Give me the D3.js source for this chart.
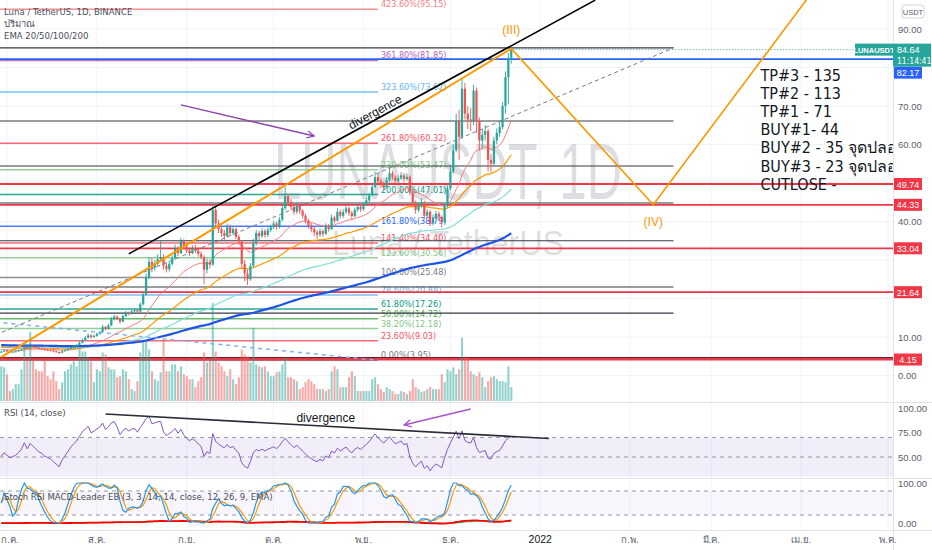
<!DOCTYPE html>
<html><head><meta charset="utf-8">
<script src="https://cdn.jsdelivr.net/npm/d3@7"></script>
<style>
body{margin:0;background:#fff;overflow:hidden;}
svg{display:block;font-family:"Liberation Sans",Arial,"Noto Sans",sans-serif;}
</style></head><body>
<svg id="c" width="932" height="550"></svg>
<script>
// ---------------- DATA ----------------
const firstDate = "2021-06-29";
const firstOpen = 6.0;
const closes = [6.2,6.5,6.3,6.1,6.2,6.3,6.5,6.8,7.4,7.0,
7.6,7.4,7.2,7.0,6.9,6.7,6.6,6.5,6.3,6.1,
5.9,6.3,6.6,6.9,7.3,7.6,7.9,8.5,9.2,9.8,
10.4,10.0,10.3,10.8,11.3,12.6,12.1,13.0,14.6,15.3,
14.8,14.0,15.4,16.3,16.0,16.7,17.0,16.6,18.5,21.0,
25.5,29.5,28.0,29.0,30.2,30.8,28.5,27.6,29.0,30.5,
33.0,31.8,35.0,33.5,32.5,31.8,33.0,32.4,31.6,30.8,
27.5,29.5,28.8,43.0,39.5,38.0,37.0,36.2,38.5,37.0,
38.0,36.0,34.8,29.0,26.5,25.0,28.5,34.5,37.0,36.2,
37.5,36.5,37.8,38.5,39.5,38.6,40.5,43.5,46.5,45.0,
43.8,42.5,44.0,42.8,41.5,40.2,39.0,38.0,37.2,36.6,
37.5,36.8,38.8,38.0,41.0,40.2,42.5,41.5,42.5,43.4,
42.2,41.4,43.0,43.8,43.2,44.3,45.5,46.8,49.0,51.5,
50.5,49.7,49.0,50.8,52.5,51.5,50.6,51.2,52.0,51.0,
51.6,47.5,44.8,43.0,44.2,45.0,41.5,42.5,39.5,41.0,
42.0,41.2,40.0,44.0,48.5,53.0,58.5,66.0,62.0,74.5,
68.0,66.5,66.0,74.0,66.0,61.0,62.5,63.5,56.0,55.0,
61.0,63.0,64.5,70.0,77.5,82.5,84.64];
const highs = [6.5,6.7,6.7,6.4,6.4,6.5,6.7,7.0,7.9,7.6,
8.3,7.8,7.6,7.4,7.2,7.1,6.9,6.8,6.7,6.5,
6.2,6.5,6.8,7.1,7.5,7.9,8.2,8.9,9.6,10.2,
10.9,10.7,10.6,11.1,11.6,13.2,12.9,13.4,15.2,15.8,
15.6,15.0,15.8,16.8,16.6,17.1,17.5,17.3,19.0,21.6,
26.5,30.8,30.5,30.0,31.5,35.0,31.5,29.2,29.8,31.2,
34.0,33.6,35.8,35.4,34.2,33.0,33.8,34.0,33.0,32.2,
31.2,30.4,30.2,44.5,44.0,40.5,38.8,37.8,39.5,39.2,
38.8,38.4,36.6,35.2,30.0,27.5,29.2,35.5,37.8,37.6,
38.2,38.0,38.4,39.2,40.2,40.0,41.2,44.5,49.0,47.2,
45.8,44.5,44.8,44.4,43.2,42.0,40.8,39.6,38.6,37.8,
38.2,38.0,39.5,39.4,41.8,41.5,43.4,43.0,43.2,44.0,
43.8,42.8,43.6,44.5,44.4,45.0,46.2,47.5,49.8,53.0,
52.4,51.2,50.4,51.6,54.0,53.2,52.0,52.0,52.8,52.6,
52.5,52.0,48.0,45.4,45.0,46.0,45.4,43.2,43.0,41.8,
42.8,42.6,41.6,44.8,49.4,54.2,60.0,68.0,69.0,77.0,
76.0,70.0,69.5,75.5,74.8,67.0,64.0,65.0,64.0,57.5,
62.0,64.2,66.0,71.0,79.0,83.8,85.3];
const lows = [5.8,6.1,6.1,5.9,5.9,6.0,6.2,6.4,6.7,6.8,
6.9,7.2,7.0,6.8,6.7,6.4,6.4,6.3,6.1,5.9,
5.6,5.8,6.2,6.5,6.8,7.1,7.4,7.8,8.3,9.0,
9.6,9.6,9.8,10.1,10.6,11.1,11.7,11.9,12.8,14.3,
14.4,13.5,13.8,15.2,15.6,15.8,16.4,16.2,16.4,18.2,
20.8,25.0,26.8,27.2,28.5,29.5,27.5,26.8,27.0,28.6,
30.0,31.0,31.5,32.8,31.8,31.0,31.5,31.8,30.8,30.2,
23.7,26.5,27.8,28.5,38.5,37.0,36.0,35.2,35.8,36.4,
36.5,35.4,34.0,28.0,24.5,23.5,24.6,28.0,33.8,35.2,
35.8,35.8,36.0,37.2,38.0,37.8,38.2,40.0,43.0,44.0,
43.0,41.8,42.0,42.0,40.8,39.5,38.2,37.2,36.2,35.5,
36.0,36.0,36.5,37.4,37.8,39.5,40.0,40.8,41.0,42.0,
41.5,40.6,41.0,42.6,42.5,42.8,44.0,45.0,46.5,48.6,
49.6,48.8,48.2,48.6,50.4,50.8,49.8,50.0,50.8,50.2,
50.6,46.8,44.0,42.0,42.4,43.6,40.8,41.0,38.8,39.0,
40.4,40.2,38.4,39.6,43.6,48.0,52.5,58.0,56.0,61.5,
66.5,64.0,63.5,65.0,63.0,58.5,59.0,61.0,53.0,52.7,
54.5,60.0,62.0,64.0,68.0,70.5,81.0];
const volumes = [35,34,27,10,12,17,17,32,59,42,
70,42,32,30,30,42,25,22,30,20,
12,19,30,32,37,40,35,57,50,50,
44,40,19,32,30,49,47,34,32,32,
24,25,32,30,22,12,10,20,49,60,
62,52,30,22,20,29,62,30,30,37,
37,30,35,27,25,22,22,14,20,24,
49,39,42,99,50,39,35,30,25,32,
22,17,24,52,47,45,39,74,37,35,
34,35,30,25,25,29,30,37,44,24,
24,22,20,12,14,19,22,20,17,12,
12,12,10,12,30,35,32,14,14,14,
24,30,25,10,10,10,10,10,22,24,
17,12,9,14,12,10,7,7,10,9,
7,10,22,14,12,9,10,12,14,12,
12,12,27,19,32,30,34,27,32,64,
45,44,30,27,25,29,24,14,20,24,
25,22,20,20,19,35,14];
const emaPeriods = [20, 50, 100, 200];
const emaSeeds = [6.8, 7.4, 7.6, 7.9];
const macdSeeds = [6.4, 6.6];
const rsiSeed = [0.15, 0.16];

const fibLevels = [4.236,3.618,3.236,2.618,2.3,2.0,1.618,1.414,1.236,1.0,0.786,0.618,0.5,0.382,0.236,0];
const fibPrices = [95.15,81.85,73.62,60.32,53.47,47.01,38.79,34.40,30.56,25.48,20.88,17.26,14.72,12.18,9.03,3.95];
const fibSpan = ["2021-05-01","2021-11-06"];
const supportLevels = [49.74,44.33,33.04,21.64,4.15];
const blueLevel = 82.17;
const darkLevels = [85.1,66.1,54.4,44.8,35.0,23.0,16.2];
const darkEnd = "2022-02-16";
const lastPrice = 84.64;
const countdown = "11:14:41";

const blackTrend = [["2021-08-12",31.6],["2022-01-20",97.5]];
const orangeChannel = [["2021-06-29",4.8],["2021-12-22",84.9]];
const orangeWave = [["2021-12-22",84.9],["2022-02-09",44.33],["2022-05-10",135]];
const dashedTrend = [["2021-06-27",10.5],["2022-02-16",85.1]];
const blueDashed = [["2021-06-27",13.9],["2021-11-06",3.95]];
const purpleArrow = [["2021-08-30",70.3],["2021-10-15",62.2]];
const rsiTrend = [["2021-08-04",93.9],["2022-01-04",68.8]];
const rsiArrow = [["2021-12-08",99.0],["2021-11-15",82.7]];
const waveLabels = [["(III)","2021-12-22",88.6],["(IV)","2022-02-09",38.8]];
const divergenceMain = ["divergence","2021-11-05",68.4];
const divergenceRsi = ["divergence","2021-10-19",89.8];
const planAnchor = ["2022-03-18",76.6];
const planLines = ["TP#3 - 135","TP#2 - 113","TP#1 - 71","BUY#1- 44","BUY#2 - 35 จุดปลอดภัย","BUY#3 - 23 จุดปลอดภัย","CUTLOSE -"];

const priceTicks = [0,10,20,30,40,50,60,70,80,90];
const rsiTicks = [100,75,50];
const stochTicks = [100,0];
const monthTicks = ["2021-07-01","2021-08-01","2021-09-01","2021-10-01","2021-11-01","2021-12-01","2022-01-01","2022-02-01","2022-03-01","2022-04-01","2022-05-01"];
const monthLabels = ["ก.ค.","ส.ค.","ก.ย.","ต.ค.","พ.ย.","ธ.ค.","2022","ก.พ.","มี.ค.","เม.ย.","พ.ค."];

// ---------------- STYLE ----------------
const W = 932, H = 550, PW = 893;
const MAIN = [0, 402], RSIP = [402, 478], STP = [478, 530];
const UP = "#26a69a", DN = "#ef5350";
const emaColors = ["#f77c80", "#ff9800", "#80ded5", "#1e53e5"];
const emaWidths = [1, 1.2, 1.2, 2.2];
const fibColors = ["#f77c80","#b05ec0","#64b5f6","#f7525f","#81c784","#089981","#2962ff","#f7525f","#81c784","#787b86","#64b5f6","#089981","#4caf50","#81c784","#f7525f","#787b86"];
const narrow = '"Liberation Sans Narrow","Arial Narrow","DejaVu Sans Condensed","Liberation Sans",sans-serif';

const parse = d3.timeParse("%Y-%m-%d");
const svg = d3.select("#c");
const x = d3.scaleTime().domain([parse("2021-07-01"), parse("2022-05-01")]).range([7, 888]);
const y = d3.scaleLinear().domain([0, 90]).range([375.5, 29]);
const yVol = d3.scaleLinear().domain([0, 100]).range([401, 302]);
const yR = d3.scaleLinear().domain([50, 100]).range([457, 408]);
const yS = d3.scaleLinear().domain([0, 100]).range([523, 483]);

const defs = svg.append("defs");
function clip(id, y0, y1, w) { defs.append("clipPath").attr("id", id).append("rect").attr("x", 0).attr("y", y0).attr("width", w).attr("height", y1 - y0); }
clip("cm", MAIN[0], MAIN[1], PW); clip("cr", RSIP[0], RSIP[1], PW); clip("cs", STP[0], STP[1], PW);
function marker(id, color) {
  defs.append("marker").attr("id", id).attr("viewBox", "0 0 10 10").attr("refX", 9).attr("refY", 5)
    .attr("markerWidth", 9).attr("markerHeight", 9).attr("orient", "auto").attr("markerUnits", "userSpaceOnUse")
    .append("path").attr("d", "M1,1 L9,5 L1,9").attr("fill", "none").attr("stroke", color).attr("stroke-width", 1.4);
}
marker("ap", "#8e44ad"); marker("ar", "#a855c8");

// grid
const grid = svg.append("g");
monthTicks.forEach(m => grid.append("line").attr("x1", x(parse(m))).attr("x2", x(parse(m))).attr("y1", 0).attr("y2", STP[1]).attr("stroke", "#f0f3fa"));
priceTicks.forEach(p => grid.append("line").attr("x1", 0).attr("x2", PW).attr("y1", y(p)).attr("y2", y(p)).attr("stroke", "#f0f3fa"));

// ---------- data prep ----------
const start = parse(firstDate);
const bars = closes.map((c, i) => ({ date: d3.timeDay.offset(start, i), o: i ? closes[i - 1] : firstOpen, h: highs[i], l: lows[i], c, v: volumes[i] }));
function ema(vals, n, seed) { const a = 2 / (n + 1); let e = seed; return vals.map(v => (e = e + a * (v - e))); }
const emas = emaPeriods.map((n, k) => ema(closes, n, emaSeeds[k]));
let ag = rsiSeed[0], al = rsiSeed[1];
const rsi = bars.map(b => { const ch = b.c - b.o; ag = (ag * 13 + Math.max(ch, 0)) / 14; al = (al * 13 + Math.max(-ch, 0)) / 14; return 100 - 100 / (1 + ag / al); });
const st = rsi.map((r, i) => { const w = rsi.slice(Math.max(0, i - 13), i + 1); const lo = d3.min(w), hi = d3.max(w); return hi > lo ? (r - lo) / (hi - lo) * 100 : 50; });
const sma3 = a => a.map((v, i) => d3.mean(a.slice(Math.max(0, i - 2), i + 1)));
const K = sma3(st), D = sma3(K);
const e12 = ema(closes, 12, macdSeeds[0]), e26 = ema(closes, 26, macdSeeds[1]);
const macd = e12.map((v, i) => v - e26[i]);
const sig = ema(macd, 9, 0);

const P = a => [x(parse(a[0])), y(a[1])];

// ---------- MAIN PANEL ----------
const m = svg.append("g").attr("clip-path", "url(#cm)");
// watermark
m.append("text").attr("x", 448).attr("y", 199).attr("text-anchor", "middle").attr("font-size", 80)
  .attr("textLength", 348).attr("lengthAdjust", "spacingAndGlyphs").attr("fill", "rgba(120,123,134,0.25)").text("LUNAUSDT, 1D");
m.append("text").attr("x", 448).attr("y", 255).attr("text-anchor", "middle").attr("font-size", 35)
  .attr("textLength", 232).attr("lengthAdjust", "spacingAndGlyphs").attr("fill", "rgba(120,123,134,0.25)").text("Luna / TetherUS");

// fib lines
fibLevels.forEach((lv, i) => {
  const yy = y(fibPrices[i]);
  m.append("line").attr("x1", x(parse(fibSpan[0]))).attr("x2", x(parse(fibSpan[1]))).attr("y1", yy).attr("y2", yy)
    .attr("stroke", fibColors[i]).attr("stroke-width", 1.5).attr("opacity", 0.85);
  m.append("text").attr("x", x(parse(fibSpan[1])) + 3).attr("y", yy - 2).attr("font-size", 9).attr("font-family", narrow)
    .attr("fill", fibColors[i]).text(`${(lv * 100).toFixed(2)}%(${fibPrices[i].toFixed(2)})`);
});
// dark lines
darkLevels.forEach(p => m.append("line").attr("x1", 0).attr("x2", x(parse(darkEnd))).attr("y1", y(p)).attr("y2", y(p)).attr("stroke", "#363a45").attr("stroke-width", 1.1));
// support red
m.append("line").attr("x1", 0).attr("x2", PW).attr("y1", y(4.15) - 1.6).attr("y2", y(4.15) - 1.6).attr("stroke", "#7b1a24").attr("stroke-width", 1.6);
supportLevels.forEach(p => m.append("line").attr("x1", 0).attr("x2", PW).attr("y1", y(p)).attr("y2", y(p)).attr("stroke", "#f23645").attr("stroke-width", 1.8));
m.append("line").attr("x1", 0).attr("x2", PW).attr("y1", y(blueLevel)).attr("y2", y(blueLevel)).attr("stroke", "#2962ff").attr("stroke-width", 1.6);

// volume
m.selectAll(".vol").data(bars).join("rect").attr("x", d => x(d.date) - 1).attr("width", 2.1)
  .attr("y", d => yVol(d.v)).attr("height", d => yVol(0) - yVol(d.v))
  .attr("fill", d => d.c >= d.o ? "rgba(38,166,154,0.5)" : "rgba(239,83,80,0.5)");

// EMAs
emas.forEach((e, k) => {
  m.append("path").datum(e).attr("fill", "none").attr("stroke", emaColors[k]).attr("stroke-width", emaWidths[k])
    .attr("d", d3.line().x((v, i) => x(bars[i].date)).y(v => y(v)));
});

// candles
m.selectAll(".wick").data(bars).join("line").attr("x1", d => x(d.date)).attr("x2", d => x(d.date))
  .attr("y1", d => y(d.h)).attr("y2", d => y(d.l)).attr("stroke", d => d.c >= d.o ? UP : DN).attr("stroke-width", 0.9);
m.selectAll(".body").data(bars).join("rect").attr("x", d => x(d.date) - 1.1).attr("width", 2.2)
  .attr("y", d => y(Math.max(d.o, d.c))).attr("height", d => Math.max(1, Math.abs(y(d.o) - y(d.c))))
  .attr("fill", d => d.c >= d.o ? UP : DN);

// last price line
const lb = bars[bars.length - 1];
m.append("line").attr("x1", x(lb.date) + 2).attr("x2", PW).attr("y1", y(lastPrice)).attr("y2", y(lastPrice))
  .attr("stroke", UP).attr("stroke-width", 1).attr("stroke-dasharray", "1,2");

// trendlines
const ln = d3.line();
m.append("path").attr("d", ln(blueDashed.map(P))).attr("stroke", "#7fb0f5").attr("stroke-width", 1.5).attr("stroke-dasharray", "4,4").attr("fill", "none");
m.append("path").attr("d", ln(dashedTrend.map(P))).attr("stroke", "#787b86").attr("stroke-width", 1).attr("stroke-dasharray", "4,3").attr("fill", "none");
m.append("path").attr("d", ln(orangeChannel.map(P))).attr("stroke", "#ff9800").attr("stroke-width", 2).attr("fill", "none");
m.append("path").attr("d", ln(orangeWave.map(P))).attr("stroke", "#ff9800").attr("stroke-width", 1.6).attr("fill", "none");
m.append("path").attr("d", ln(blackTrend.map(P))).attr("stroke", "#000").attr("stroke-width", 1.6).attr("fill", "none");
m.append("path").attr("d", ln(purpleArrow.map(P))).attr("stroke", "#8e44ad").attr("stroke-width", 1.4).attr("fill", "none").attr("marker-end", "url(#ap)");

// texts
waveLabels.forEach(w => m.append("text").attr("x", x(parse(w[1]))).attr("y", y(w[2])).attr("text-anchor", "middle")
  .attr("font-size", 12).attr("fill", "#ff9800").text(w[0]));
{
  const b0 = P(blackTrend[0]), b1 = P(blackTrend[1]);
  const ang = Math.atan2(b1[1] - b0[1], b1[0] - b0[0]) * 180 / Math.PI;
  const px = x(parse(divergenceMain[1])), py = y(divergenceMain[2]);
  m.append("text").attr("transform", `translate(${px},${py}) rotate(${ang})`).attr("text-anchor", "middle").attr("dy", 4)
    .attr("font-size", 12).attr("fill", "#131722").text(divergenceMain[0]);
}
const plan = m.append("text").attr("font-size", 16).attr("font-family", narrow).attr("fill", "#131722");
planLines.forEach((t, i) => plan.append("tspan").attr("x", x(parse(planAnchor[0]))).attr("y", y(planAnchor[1]) + i * 18.2).text(t));

// header
const hdr = ["Luna / TetherUS, 1D, BINANCE", "ปริมาณ", "EMA 20/50/100/200"];
hdr.forEach((t, i) => svg.append("text").attr("x", 4).attr("y", 15 + i * 12).attr("font-size", 9.5).attr("font-family", narrow).attr("fill", "#4a4e5a").text(t));

// ---------- RSI PANEL ----------
const r = svg.append("g").attr("clip-path", "url(#cr)");
r.append("rect").attr("x", 0).attr("width", PW).attr("y", yR(70)).attr("height", yR(30) - yR(70)).attr("fill", "rgba(126,87,194,0.1)");
[70, 50].forEach(v => r.append("line").attr("x1", 0).attr("x2", PW).attr("y1", yR(v)).attr("y2", yR(v)).attr("stroke", "#9598a1").attr("stroke-dasharray", "4,4").attr("stroke-width", 1));
r.append("path").datum(rsi).attr("fill", "none").attr("stroke", "#7e57c2").attr("stroke-width", 1)
  .attr("d", d3.line().x((v, i) => x(bars[i].date)).y(v => yR(v)));
const PR = a => [x(parse(a[0])), yR(a[1])];
r.append("path").attr("d", ln(rsiTrend.map(PR))).attr("stroke", "#2a2e39").attr("stroke-width", 1.6).attr("fill", "none");
r.append("path").attr("d", ln(rsiArrow.map(PR))).attr("stroke", "#a855c8").attr("stroke-width", 1.4).attr("fill", "none").attr("marker-end", "url(#ar)");
r.append("text").attr("x", x(parse(divergenceRsi[1]))).attr("y", yR(divergenceRsi[2]) + 4).attr("text-anchor", "middle").attr("font-size", 12).attr("fill", "#131722").text(divergenceRsi[0]);
svg.append("text").attr("x", 4).attr("y", 416).attr("font-size", 9.5).attr("font-family", narrow).attr("fill", "#4a4e5a").text("RSI (14, close)");

// ---------- STOCH PANEL ----------
const s = svg.append("g").attr("clip-path", "url(#cs)");
s.append("rect").attr("x", 0).attr("width", PW).attr("y", yS(80)).attr("height", yS(20) - yS(80)).attr("fill", "rgba(126,87,194,0.05)");
[80, 20].forEach(v => s.append("line").attr("x1", 0).attr("x2", PW).attr("y1", yS(v)).attr("y2", yS(v)).attr("stroke", "#9598a1").attr("stroke-dasharray", "4,4"));
svg.append("text").attr("x", 4).attr("y", 500).attr("font-size", 9.5).attr("font-family", narrow).attr("fill", "#4a4e5a").text("Stoch RSI MACD-Leader EB (3, 3, 14, 14, close, 12, 26, 9, EMA)");
const sl = d3.line().x((v, i) => x(bars[i].date)).y(v => yS(v));
s.append("path").datum(sig).attr("fill", "none").attr("stroke", "#4caf50").attr("stroke-width", 1.2).attr("d", sl);
s.append("path").datum(macd).attr("fill", "none").attr("stroke", "#ff0000").attr("stroke-width", 1.8).attr("d", sl);
s.append("path").datum(D).attr("fill", "none").attr("stroke", "#ff9800").attr("stroke-width", 1.2).attr("d", sl);
s.append("path").datum(K).attr("fill", "none").attr("stroke", "#2196f3").attr("stroke-width", 1.2).attr("d", sl);

// ---------- FRAME ----------
svg.append("line").attr("x1", PW + 0.5).attr("x2", PW + 0.5).attr("y1", 0).attr("y2", H).attr("stroke", "#e0e3eb");
[RSIP[0], STP[0], STP[1]].forEach(v => svg.append("line").attr("x1", 0).attr("x2", W).attr("y1", v + 0.5).attr("y2", v + 0.5).attr("stroke", "#e0e3eb"));

// ---------- AXES ----------
const ax = svg.append("g").attr("font-size", 9.5).attr("fill", "#5d606b");
const blueBoxC = Math.max(y(blueLevel), y(lastPrice) + 5.5 + 11.5 + 6);
const boxCenters = [y(lastPrice) + 5.5, blueBoxC].concat(supportLevels.map(p => y(p)));
priceTicks.forEach(p => {
  const yy = y(p);
  if (boxCenters.some(c => Math.abs(c - yy) < 12)) return;
  ax.append("text").attr("x", 898).attr("y", yy + 3.5).text(p.toFixed(2));
});
rsiTicks.forEach(v => ax.append("text").attr("x", 898).attr("y", yR(v) + 3.5).text(v.toFixed(2)));
stochTicks.forEach(v => ax.append("text").attr("x", 898).attr("y", yS(v) + 3.5).text(v.toFixed(2)));
monthTicks.forEach((mm, i) => {
  const xx = x(parse(mm));
  ax.append("text").attr("x", Math.max(xx, 10)).attr("y", 543).attr("text-anchor", "middle")
    .attr("fill", monthLabels[i] === "2022" ? "#131722" : "#5d606b").attr("font-size", monthLabels[i] === "2022" ? 10.5 : 9.5).text(monthLabels[i]);
});

// USDT box
svg.append("rect").attr("x", 902).attr("y", 5).attr("width", 22).attr("height", 13).attr("rx", 3).attr("fill", "#fff").attr("stroke", "#d1d4dc");
svg.append("text").attr("x", 913).attr("y", 14.5).attr("text-anchor", "middle").attr("font-size", 7.5).attr("fill", "#5d606b").text("USDT");

// price boxes
function pbox(cy, txt, col) {
  svg.append("rect").attr("x", 894).attr("y", cy - 6).attr("width", 28).attr("height", 12).attr("fill", col);
  svg.append("text").attr("x", 908).attr("y", cy + 3.5).attr("text-anchor", "middle").attr("font-size", 9).attr("fill", "#fff").text(txt);
}
supportLevels.forEach(p => pbox(y(p), p.toFixed(2), "#f23645"));
pbox(blueBoxC, blueLevel.toFixed(2), "#2962ff");
const ly = y(lastPrice);
svg.append("rect").attr("x", 855).attr("y", ly - 6).attr("width", 38).attr("height", 12).attr("fill", UP);
svg.append("text").attr("x", 874).attr("y", ly + 3).attr("text-anchor", "middle").attr("font-size", 7.5).attr("font-weight", "bold").attr("fill", "#fff").text("LUNAUSDT");
svg.append("rect").attr("x", 893).attr("y", ly - 6).attr("width", 38).attr("height", 23).attr("fill", UP);
svg.append("text").attr("x", 897).attr("y", ly + 3).attr("font-size", 9).attr("fill", "#fff").text(lastPrice.toFixed(2));
svg.append("text").attr("x", 897).attr("y", ly + 14).attr("font-size", 8.5).attr("font-family", narrow).attr("fill", "#fff").text(countdown);
</script>
</body></html>
